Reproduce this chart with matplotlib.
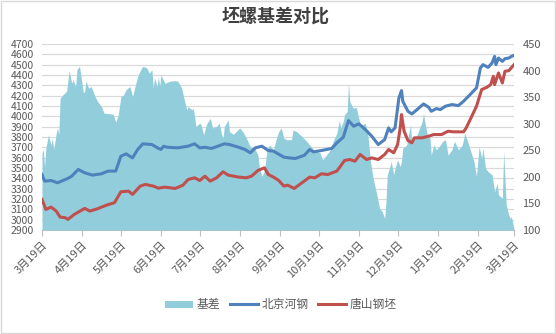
import pandas as pd
import matplotlib
matplotlib.use('Agg')
import matplotlib.pyplot as plt
from matplotlib.patches import Patch, Rectangle
from matplotlib.lines import Line2D

plt.rcParams['font.family'] = ['Noto Sans CJK SC', 'DejaVu Sans']

start = pd.Timestamp('2020-03-19')

# 北京河钢: days since start, price
bj_days = [0, 2, 7, 12, 15, 20, 23, 28, 33, 39, 46, 51, 57, 61, 65, 70, 74, 78, 85, 90,
           92, 94, 97, 105, 113, 118, 122, 126, 131, 136, 141, 145, 152, 157, 161, 165, 170, 175, 179, 183,
           187, 191, 196, 203, 207, 210, 216, 224, 228, 233, 237, 241, 245, 250, 255, 260, 265, 268, 270, 273,
           276, 278, 279, 281, 283, 286, 290, 295, 299, 301, 305, 308, 312, 317, 322, 326, 331, 336, 339, 341,
           345, 348, 350, 351, 353, 356, 358, 361, 363, 365]
bj_price = [3437, 3373, 3379, 3357, 3373, 3399, 3421, 3486, 3454, 3431, 3444, 3470, 3470, 3614, 3637, 3598, 3679, 3734, 3727, 3690,
            3680, 3710, 3701, 3695, 3711, 3734, 3695, 3701, 3689, 3711, 3734, 3727, 3701, 3679, 3647, 3695, 3711, 3669, 3663, 3634,
            3605, 3598, 3592, 3624, 3679, 3656, 3669, 3689, 3743, 3798, 3959, 3904, 3927, 3872, 3808, 3727, 3775, 3888, 3850, 3888,
            4178, 4249, 4146, 4097, 4049, 4023, 4065, 4120, 4088, 4049, 4075, 4065, 4098, 4114, 4104, 4146, 4210, 4275, 4468, 4500,
            4474, 4516, 4580, 4500, 4564, 4532, 4558, 4564, 4580, 4590]

# 唐山钢坯
ts_days = [0, 3, 7, 11, 14, 18, 20, 25, 33, 37, 43, 50, 56, 61, 67, 70, 76, 80, 86, 90,
           95, 103, 109, 113, 118, 122, 126, 130, 135, 140, 144, 152, 158, 162, 167, 172, 175, 179, 183, 187,
           190, 195, 201, 207, 211, 216, 221, 228, 234, 238, 242, 246, 251, 255, 260, 265, 268, 272, 275, 277,
           278, 280, 283, 286, 288, 294, 299, 303, 309, 314, 318, 326, 328, 332, 336, 340, 344, 347, 349, 350,
           353, 356, 358, 361, 365]
ts_price = [3196, 3099, 3122, 3083, 3025, 3019, 3003, 3051, 3109, 3083, 3106, 3141, 3164, 3270, 3276, 3244, 3325, 3341, 3325, 3305,
            3315, 3302, 3334, 3389, 3405, 3379, 3421, 3373, 3405, 3463, 3431, 3412, 3405, 3421, 3476, 3502, 3437, 3412, 3380, 3325,
            3334, 3302, 3357, 3412, 3405, 3444, 3437, 3470, 3573, 3582, 3566, 3631, 3582, 3598, 3582, 3631, 3679, 3647, 3727, 3888,
            4017, 3856, 3766, 3743, 3792, 3792, 3808, 3824, 3824, 3856, 3850, 3850, 3888, 3991, 4098, 4259, 4281, 4307, 4387, 4307,
            4420, 4323, 4436, 4442, 4500]

# 基差
jc_days = [0, 1, 2, 3, 5, 7, 8, 9, 10, 11, 12, 13, 14, 16, 19, 20, 21, 23, 24, 26,
           27, 29, 30, 32, 33, 34, 36, 38, 41, 43, 46, 48, 55, 57, 59, 61, 63, 65, 68, 70,
           73, 74, 77, 78, 81, 83, 85, 86, 87, 89, 90, 91, 92, 95, 99, 103, 105, 108, 110, 112,
           113, 116, 117, 118, 119, 122, 123, 125, 127, 130, 132, 135, 137, 139, 140, 141, 144, 145, 148, 150,
           153, 156, 158, 161, 165, 167, 168, 170, 172, 174, 176, 179, 181, 183, 185, 187, 189, 193, 194, 197,
           201, 205, 207, 210, 212, 215, 217, 220, 223, 225, 228, 230, 231, 233, 234, 236, 237, 238, 240, 241,
           243, 245, 246, 248, 250, 252, 254, 256, 259, 261, 263, 265, 266, 267, 269, 270, 272, 273, 275, 277,
           278, 279, 282, 285, 286, 287, 290, 291, 294, 295, 296, 298, 300, 301, 303, 305, 308, 310, 312, 314,
           317, 319, 322, 325, 327, 330, 334, 336, 338, 340, 341, 343, 345, 348, 350, 352, 353, 356, 357, 359,
           361, 362, 363, 365]
jc_value = [245, 251, 219, 254, 279, 260, 273, 251, 266, 282, 292, 279, 348, 354, 361, 380, 400, 376, 383, 370,
            402, 408, 392, 358, 361, 380, 367, 370, 351, 342, 332, 320, 318, 303, 317, 351, 354, 364, 370, 351,
            380, 389, 405, 408, 405, 395, 402, 367, 386, 370, 389, 370, 392, 376, 380, 381, 380, 367, 345, 326,
            332, 326, 329, 314, 295, 301, 298, 279, 298, 310, 292, 295, 301, 279, 273, 295, 307, 285, 280, 285,
            292, 282, 273, 257, 251, 241, 219, 201, 211, 251, 260, 251, 270, 285, 292, 273, 270, 270, 288, 285,
            276, 266, 260, 251, 248, 245, 232, 241, 251, 266, 282, 307, 292, 305, 317, 323, 376, 342, 332, 329,
            331, 310, 299, 298, 301, 279, 229, 198, 166, 141, 135, 122, 154, 204, 219, 229, 204, 216, 232, 219,
            230, 254, 260, 298, 260, 267, 279, 285, 304, 320, 304, 279, 273, 241, 260, 251, 260, 267, 270, 241,
            251, 267, 251, 260, 282, 260, 229, 201, 257, 235, 254, 216, 210, 204, 172, 188, 166, 160, 248, 147,
            128, 122, 125, 102]

tick_dates = [start + pd.DateOffset(months=i) for i in range(13)]
tick_labels = [f"{d.month}月{d.day}日" for d in tick_dates]


def to_dates(days):
    return start + pd.to_timedelta(days, unit='D')


text_c = '#595959'
grid_c = '#D9D9D9'

fig = plt.figure(figsize=(5.56, 3.34), dpi=100)
fig.patches.append(Rectangle((0.001, 0.002), 0.997, 0.995, transform=fig.transFigure,
                             fill=False, edgecolor=grid_c, lw=1))

ax = fig.add_axes([42 / 556, 1 - 230 / 334, 472 / 556, 186 / 334])
ax_area = ax.twinx()
ax_line = ax.twinx()

# gridlines on the back axes
ax.set_ylim(2900, 4700)
ax.set_yticks(range(2900, 4701, 100))
ax.grid(axis='y', color=grid_c, lw=0.9)
ax.set_axisbelow(True)

# basis area (right scale)
ax_area.fill_between(to_dates(jc_days), jc_value, 100, color='#92CDDC', lw=0)
ax_area.set_ylim(100, 450)
ax_area.set_yticks(range(100, 451, 50))

# price lines (left scale)
ax_line.plot(to_dates(bj_days), bj_price, color='#4F81BD', lw=2.2)
ax_line.plot(to_dates(ts_days), ts_price, color='#C0504D', lw=2.2)
ax_line.set_ylim(2900, 4700)
ax_line.set_yticks([])

for a in (ax, ax_area, ax_line):
    a.set_xlim(start, tick_dates[-1])
    for s in a.spines.values():
        s.set_visible(False)

ax.spines['bottom'].set_visible(True)
ax.spines['bottom'].set_color('#BFBFBF')
ax.set_xticks(tick_dates)
ax.set_xticklabels(tick_labels, rotation=45, ha='right', va='top', rotation_mode='anchor')
ax.tick_params(axis='x', colors='#BFBFBF', length=4, labelsize=8, labelcolor=text_c, pad=3)
ax.tick_params(axis='y', length=0, labelsize=7.5, labelcolor=text_c, pad=6)
ax_area.tick_params(axis='y', length=0, labelsize=8, labelcolor=text_c, pad=6)

fig.text(0.495, 0.952, '坯螺基差对比', ha='center', va='center', fontsize=13,
         fontweight='bold', color='#404040')

handles = [Patch(facecolor='#92CDDC', edgecolor='none'),
           Line2D([], [], color='#4F81BD', lw=2.2),
           Line2D([], [], color='#C0504D', lw=2.2)]
fig.legend(handles, ['基差', '北京河钢', '唐山钢坯'], loc='center', bbox_to_anchor=(0.505, 0.087),
           ncol=3, frameon=False, fontsize=8.5, labelcolor=text_c, handlelength=2.4,
           handleheight=0.6, handletextpad=0.3, columnspacing=0.8)

fig.savefig('out.png', dpi=100)
